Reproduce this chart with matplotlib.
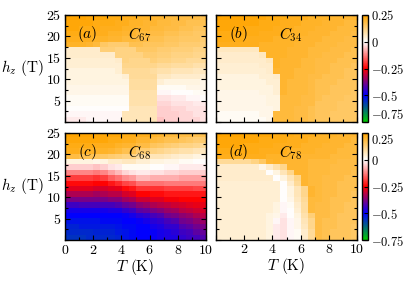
import matplotlib
matplotlib.use("Agg")
import matplotlib.pyplot as plt
import numpy as np
from matplotlib.colors import LinearSegmentedColormap
from matplotlib.ticker import MultipleLocator

plt.rcParams['font.family'] = 'serif'
plt.rcParams['font.serif'] = ['cmr10']
plt.rcParams['mathtext.fontset'] = 'cm'
plt.rcParams['axes.formatter.use_mathtext'] = True
plt.rcParams['font.size'] = 10

# grid: T from 0 to 10 K in 20 columns, h_z from 25 T (top row) down to 0 in 20 rows
# values are in hundredths
C67 = [
    [25,25,25,24,24,24,23,23,22,22,21,21,20,20,19,19,18,18,18,17],
    [24,24,24,24,23,23,23,22,22,21,21,20,20,19,19,18,18,17,17,17],
    [24,24,23,23,23,22,22,22,21,21,20,20,19,19,18,18,17,17,16,16],
    [23,23,23,22,22,22,21,21,20,20,19,19,18,18,17,17,16,16,15,15],
    [22,22,22,22,21,21,20,20,19,19,18,18,17,17,16,16,15,15,15,14],
    [21,21,21,20,19,15,14,14,14,17,17,16,16,16,15,15,14,14,14,13],
    [5,5,5,5,5,13,13,12,12,12,15,15,15,14,14,13,13,13,12,12],
    [5,5,5,5,5,5,5,12,12,12,12,14,14,13,13,12,12,12,11,11],
    [4,4,4,4,4,4,4,5,12,11,11,11,13,12,12,11,11,10,10,10],
    [4,4,4,4,4,4,4,4,11,11,11,11,11,10,10,9,9,9,8,8],
    [3,3,3,3,3,3,3,4,10,10,10,10,9,8,8,7,7,7,6,6],
    [3,3,3,3,3,3,3,3,4,10,10,10,10,6,6,5,5,5,5,4],
    [3,3,3,3,3,3,3,3,3,9,9,9,9,4,3,3,3,3,3,2],
    [2,2,2,2,2,2,2,2,2,9,9,9,9,1,1,1,1,2,2,2],
    [2,2,2,2,2,2,2,2,2,8,8,8,8,-1,-1,0,0,0,1,1],
    [1,1,1,1,1,1,1,1,1,8,8,8,8,-3,-3,-2,-2,-1,-1,0],
    [1,1,1,1,1,1,1,1,1,8,8,8,8,-4,-4,-3,-3,-3,-2,-2],
    [0,0,0,0,0,0,0,0,0,7,7,7,7,-5,-5,-4,-4,-3,-3,-3],
    [-1,-1,-1,-1,-1,-1,-1,-1,7,7,7,7,7,-5,-5,-5,-4,-4,-3,-3],
    [-2,-2,-2,-1,-1,-1,-1,-1,7,7,7,7,7,-6,-5,-5,-4,-4,-4,-3],
]

C34 = [
    [25,25,25,25,24,24,24,23,23,23,22,22,22,21,21,21,20,20,20,20],
    [24,24,24,24,24,24,23,23,23,22,22,22,21,21,21,20,20,20,19,19],
    [24,24,24,24,23,23,23,23,22,22,22,21,21,21,20,20,20,19,19,19],
    [23,23,23,23,23,23,22,22,22,22,21,21,21,20,20,20,19,19,19,18],
    [23,23,23,23,22,22,22,22,21,21,21,21,20,20,20,19,19,19,18,18],
    [22,22,22,22,22,22,21,21,21,21,21,20,20,20,19,19,19,18,18,18],
    [6,6,6,6,6,6,21,21,21,21,20,20,20,19,19,19,18,18,18,17],
    [5,5,5,5,5,5,6,21,21,21,20,20,20,19,19,18,18,18,17,17],
    [5,5,5,5,5,5,5,6,21,20,20,20,19,19,18,18,18,17,17,17],
    [4,4,4,4,4,4,5,5,21,20,20,20,19,19,18,18,17,17,17,16],
    [4,4,4,4,4,4,4,5,20,20,20,19,19,19,18,18,17,17,16,16],
    [3,3,3,3,3,3,4,4,5,20,20,19,19,18,18,17,17,17,16,16],
    [3,3,3,3,3,3,3,4,4,20,19,19,19,18,17,17,17,16,16,16],
    [3,3,3,3,3,3,3,3,4,20,19,19,19,18,17,17,16,16,16,16],
    [2,2,2,2,2,2,3,3,4,20,19,19,19,18,17,17,16,16,16,15],
    [2,2,2,2,2,2,2,3,3,19,19,19,18,18,17,16,16,16,15,15],
    [2,2,2,2,2,2,2,3,3,19,19,19,18,18,16,16,16,15,15,15],
    [2,2,2,2,2,2,2,2,3,19,19,18,18,17,16,16,16,15,15,15],
    [1,1,1,1,1,1,2,2,19,19,19,18,18,17,16,16,15,15,15,15],
    [1,1,1,1,1,1,1,2,19,19,19,18,18,17,16,16,15,15,15,15],
]

# C68 given column by column (T = 0.25 ... 9.75), each from h = 25 down to 0
C68_cols = [
    [25,24,23,22,18,3,-5,-12,-19,-24,-28,-33,-38,-44,-48,-50,-52,-54,-55,-56],
    [25,24,23,22,18,3,-5,-12,-19,-24,-28,-33,-38,-44,-48,-50,-52,-54,-55,-56],
    [25,24,23,21,17,3,-5,-12,-19,-24,-28,-33,-38,-43,-48,-50,-52,-53,-55,-56],
    [25,24,23,21,17,3,-5,-12,-19,-24,-28,-33,-38,-43,-48,-50,-52,-53,-55,-55],
    [24,24,22,21,16,2,-6,-13,-20,-25,-29,-34,-38,-43,-48,-50,-52,-53,-54,-55],
    [24,24,22,21,15,3,-5,-12,-19,-25,-29,-33,-38,-43,-48,-50,-51,-53,-54,-55],
    [24,23,22,20,14,5,-3,-9,-16,-23,-28,-32,-37,-43,-47,-50,-51,-53,-54,-55],
    [24,23,21,19,13,5,-2,-7,-14,-21,-27,-32,-37,-42,-47,-50,-51,-52,-53,-54],
    [23,22,20,17,12,6,1,-4,-11,-18,-24,-29,-34,-40,-45,-49,-50,-51,-52,-52],
    [23,22,20,17,12,6,1,-3,-10,-17,-23,-28,-33,-39,-44,-48,-50,-51,-51,-51],
    [22,20,18,14,9,4,1,-2,-7,-14,-20,-25,-30,-36,-41,-46,-49,-50,-50,-50],
    [22,20,18,14,9,4,1,-2,-7,-14,-20,-25,-30,-35,-40,-45,-48,-50,-50,-50],
    [21,19,16,12,7,3,0,-3,-8,-14,-20,-24,-28,-33,-38,-43,-46,-48,-49,-49],
    [20,18,15,11,7,3,0,-3,-8,-14,-20,-24,-28,-32,-37,-42,-45,-47,-48,-48],
    [19,17,14,10,6,2,-1,-4,-8,-13,-19,-23,-26,-31,-35,-39,-43,-45,-47,-47],
    [19,17,13,9,5,2,-1,-4,-8,-13,-19,-23,-26,-30,-34,-38,-42,-45,-46,-47],
    [18,16,12,8,4,1,-2,-5,-9,-13,-19,-23,-25,-29,-32,-36,-39,-42,-44,-45],
    [18,15,12,8,4,1,-2,-5,-9,-13,-19,-23,-25,-28,-31,-35,-38,-41,-43,-44],
    [17,14,11,7,3,0,-2,-5,-9,-13,-18,-23,-25,-27,-30,-33,-36,-39,-41,-43],
    [17,14,10,6,2,0,-2,-5,-9,-13,-18,-23,-25,-27,-29,-32,-35,-38,-40,-42],
]

C78 = [
    [25,25,25,25,24,24,24,24,23,23,23,22,22,22,21,21,21,20,20,20],
    [24,24,24,24,24,24,23,23,23,23,22,22,22,21,21,21,20,20,20,19],
    [24,24,24,24,23,23,23,23,22,22,22,22,21,21,21,20,20,20,19,19],
    [23,23,23,23,23,23,22,22,22,22,21,21,21,21,20,20,20,19,19,19],
    [22,22,22,22,22,22,22,21,21,21,21,21,20,20,20,20,19,19,19,18],
    [10,10,10,10,10,12,15,20,21,20,20,20,20,19,19,19,19,18,18,18],
    [5,5,5,5,5,5,2,5,8,11,20,20,20,19,19,19,18,18,18,18],
    [5,5,5,5,5,5,5,0,3,7,11,20,20,19,19,19,18,18,18,17],
    [5,5,5,5,5,5,5,5,0,3,7,11,20,19,19,18,18,18,17,17],
    [4,4,4,4,4,4,4,4,4,0,5,10,20,19,19,18,18,17,17,17],
    [4,4,4,4,4,4,4,4,4,0,3,7,11,20,19,18,18,17,17,17],
    [4,4,4,4,4,4,4,4,4,0,3,7,11,20,19,18,18,17,17,16],
    [4,4,4,4,4,4,4,4,4,0,2,6,10,19,19,18,17,17,17,16],
    [4,4,4,4,4,4,4,4,3,-1,1,5,9,19,18,18,17,17,16,16],
    [4,4,4,4,4,4,4,4,3,-1,0,4,9,19,18,18,17,17,16,16],
    [4,4,4,4,4,4,4,3,2,-2,0,3,8,13,18,18,17,16,16,16],
    [4,4,4,4,4,4,4,3,-1,-3,-1,2,7,11,18,17,17,16,16,16],
    [4,4,4,4,4,4,4,3,-2,-3,-1,2,6,11,18,17,17,16,16,15],
    [4,4,4,4,4,4,4,3,-2,-3,-1,1,5,10,18,17,16,16,16,15],
    [4,4,4,4,4,4,4,3,-2,-3,-1,1,5,10,18,17,16,16,16,15],
]

panels = [
    ("(a)", "C_{67}", np.array(C67) / 100.0),
    ("(b)", "C_{34}", np.array(C34) / 100.0),
    ("(c)", "C_{68}", np.array(C68_cols).T / 100.0),
    ("(d)", "C_{78}", np.array(C78) / 100.0),
]

cmap = LinearSegmentedColormap.from_list("corr", [
    (0.0, (0.0, 0.8, 0.0)),
    (0.25, (0.0, 0.0, 1.0)),
    (0.5, (1.0, 0.0, 0.0)),
    (0.75, (1.0, 1.0, 1.0)),
    (1.0, (1.0, 0.647, 0.0)),
])

fig = plt.figure(figsize=(4.11, 2.88), dpi=100)

W, H = 411.0, 288.0
lefts = [65, 216]
tops = [15, 133]
pw, ph = 141, 107

for i, (tag, name, data) in enumerate(panels):
    row, col = i // 2, i % 2
    l = lefts[col] / W
    b = 1 - (tops[row] + ph) / H
    ax = fig.add_axes([l, b, pw / W, ph / H])
    im = ax.imshow(data, extent=[0, 10, 0, 25], origin='upper', aspect='auto',
                   interpolation='nearest', cmap=cmap, vmin=-0.75, vmax=0.25)
    ax.set_xlim(0, 10)
    ax.set_ylim(0, 25)
    ax.xaxis.set_major_locator(MultipleLocator(2))
    ax.xaxis.set_minor_locator(MultipleLocator(1))
    ax.yaxis.set_major_locator(MultipleLocator(5))
    ax.yaxis.set_minor_locator(MultipleLocator(2.5))
    ax.tick_params(which='both', direction='in', top=True, right=True, width=0.8,
                   labelsize=10, pad=3)
    ax.tick_params(which='major', length=3.5)
    ax.tick_params(which='minor', length=2)
    for s in ax.spines.values():
        s.set_linewidth(1.0)
    ax.text(0.16, 0.82, r'$' + tag + '$', transform=ax.transAxes,
            ha='center', va='center', fontsize=11)
    ax.text(0.53, 0.82, r'$' + name + '$', transform=ax.transAxes,
            ha='center', va='center', fontsize=11)

    if col == 0:
        ax.set_yticks([5, 10, 15, 20, 25])
        ax.set_ylabel(r'$h_z$ (T)', rotation=0, fontsize=11)
        ax.yaxis.set_label_coords(-0.3, 0.5)
        ax.yaxis.label.set_va('center')
    else:
        ax.set_yticklabels([])
    if row == 0:
        ax.set_xticklabels([])
    else:
        ax.set_xticks([0, 2, 4, 6, 8, 10])
        if col == 1:
            ax.set_xticklabels(['', '2', '4', '6', '8', '10'])
        ax.set_xlabel(r'$T$ (K)', fontsize=11, labelpad=0)

    if col == 1:
        cax = fig.add_axes([362 / W, b, 6 / W, ph / H])
        cb = fig.colorbar(im, cax=cax)
        cb.set_ticks([0.25, 0, -0.25, -0.5, -0.75])
        cb.set_ticklabels([r'$0.25$', r'$0$', r'$-0.25$', r'$-0.5$', r'$-0.75$'])
        cb.ax.tick_params(direction='in', length=3, width=0.8, labelsize=9, pad=2)
        cb.outline.set_linewidth(1.0)
        # keep the end labels of the two bars apart
        labels = cb.ax.get_yticklabels()
        if row == 0:
            labels[-1].set_va('bottom')
        else:
            labels[0].set_va('top')

fig.savefig("out.png", dpi=100)
